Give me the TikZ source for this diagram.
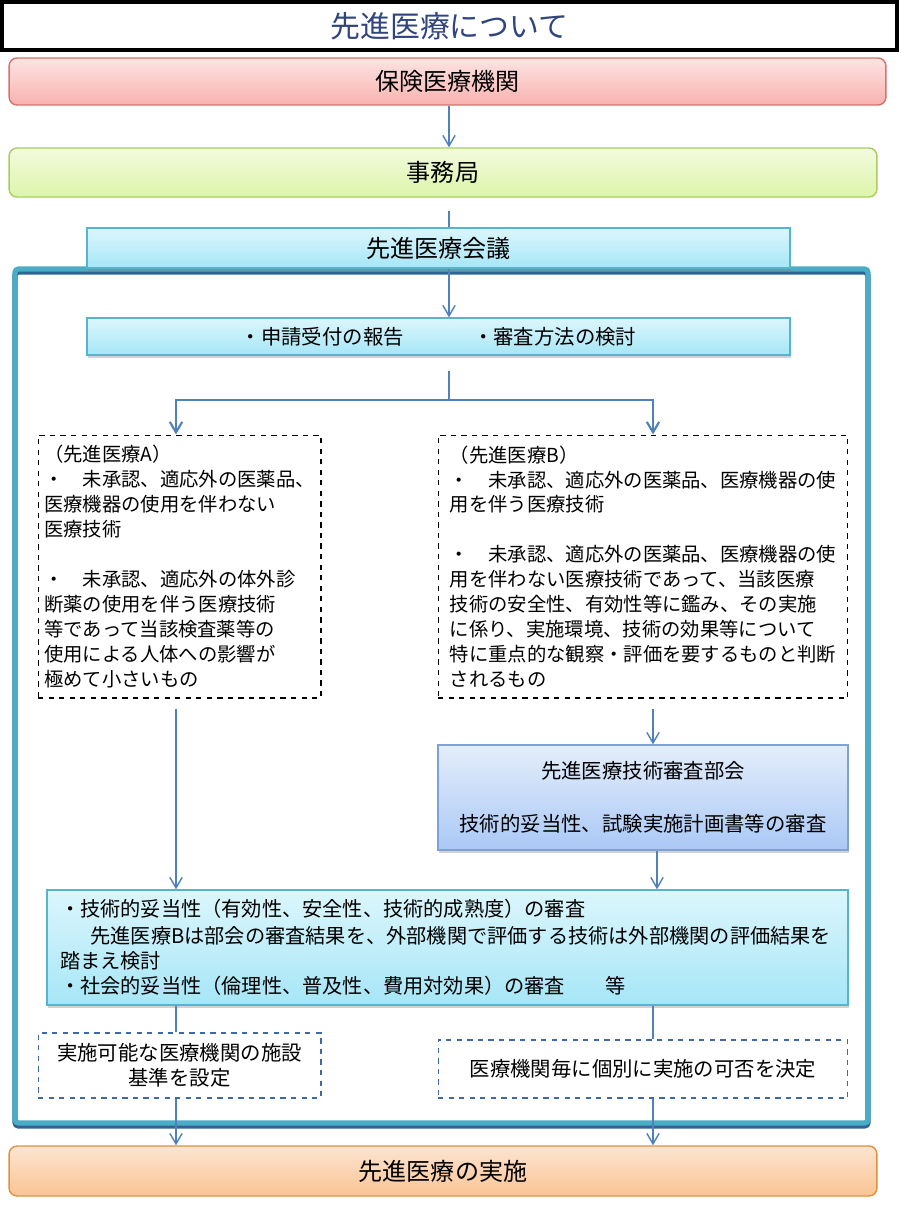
\documentclass[tikz,border=0pt]{standalone}
\usepackage{fontspec}
\setmainfont{Noto Sans CJK JP}
\usepackage{xcolor}
\definecolor{titleblue}{RGB}{48,68,128}
\definecolor{arrowblue}{RGB}{79,129,189}
\definecolor{hokentop}{RGB}{253,228,228}
\definecolor{hokenbot}{RGB}{248,178,174}
\definecolor{hokenline}{RGB}{214,112,110}
\definecolor{jimutop}{RGB}{243,250,222}
\definecolor{jimubot}{RGB}{221,245,170}
\definecolor{jimuline}{RGB}{166,206,96}
\definecolor{cyantop}{RGB}{220,246,252}
\definecolor{cyanbot}{RGB}{166,230,247}
\definecolor{cyanline}{RGB}{88,180,206}
\definecolor{bukaitop}{RGB}{228,238,250}
\definecolor{bukaibot}{RGB}{170,200,246}
\definecolor{bukailine}{RGB}{126,162,212}
\definecolor{jisshitop}{RGB}{252,228,210}
\definecolor{jisshibot}{RGB}{251,196,147}
\definecolor{jisshiline}{RGB}{222,145,62}
\definecolor{framecolor}{RGB}{75,172,198}
\definecolor{frameshadow}{RGB}{46,100,150}
\definecolor{dashblue}{RGB}{62,104,168}
\usetikzlibrary{arrows.meta,calc,shadows,backgrounds}

\begin{document}
\begin{tikzpicture}[x=0.02cm, y=-0.02cm, every node/.style={color=black, inner sep=0pt},
  bigfont/.style={font=\fontsize{13.7}{16}\selectfont},
  midfont/.style={font=\fontsize{11.6}{14.2}\selectfont},
  smallfont/.style={font=\fontsize{11}{14.2}\selectfont},
  roundbox/.style={draw, line width=0.8pt, rounded corners=4.5pt, bigfont},
  cyanbox/.style={draw=cyanline, line width=0.8pt, top color=cyantop, bottom color=cyanbot,
    drop shadow={shadow xshift=0.6pt, shadow yshift=-1.6pt, opacity=0.35}},
  dashbox/.style={draw, dashed, line width=0.6pt},
  flow/.style={arrowblue, line width=0.8pt},
  flowarrow/.style={flow, -{Straight Barb[length=6pt, width=7pt]}}]
  \useasboundingbox (0,0) rectangle (900,1214);

  % outer frame of the council
  \begin{scope}[on background layer]
    \draw[frameshadow, line width=3pt, rounded corners=2pt, fill=white] (15,272) rectangle (868,1126);
    \draw[framecolor, line width=3pt, rounded corners=2pt] (15,269) rectangle (868,1123);
  \end{scope}

  \node[draw=black, line width=2pt, minimum width=17.9cm, minimum height=0.96cm,
    text=titleblue, font=\fontsize{17}{20}\selectfont] (title) at (449.5,26) {先進医療について};

  \node[roundbox, draw=hokenline, top color=hokentop, bottom color=hokenbot,
    minimum width=17.54cm, minimum height=0.94cm] (hoken) at (447.5,81.5) {保険医療機関};
  \node[roundbox, draw=jimuline, top color=jimutop, bottom color=jimubot,
    minimum width=17.36cm, minimum height=0.98cm] (jimu) at (443,172.5) {事務局};
  \node[cyanbox, bigfont, minimum width=14.06cm, minimum height=0.8cm] (kaigi) at (438.5,248) {先進医療会議};
  \node[cyanbox, midfont, minimum width=14.06cm, minimum height=0.74cm] (shinsei) at (438.5,336.5)
    {・申請受付の報告\hspace{3.4em}・審査方法の検討};

  \node[dashbox, smallfont, align=left, minimum width=5.66cm, minimum height=5.26cm] (senA) at (179.5,566.5)
    {（先進医療A）\\
     ・　未承認、適応外の医薬品、\\
     医療機器の使用を伴わない\\
     医療技術\\[14.2pt]
     ・　未承認、適応外の体外診\\
     断薬の使用を伴う医療技術\\
     等であって当該検査薬等の\\
     使用による人体への影響が\\
     極めて小さいもの};
  \node[dashbox, smallfont, align=left, minimum width=8.2cm, minimum height=5.26cm] (senB) at (643,566.5)
    {（先進医療B）\\
     ・　未承認、適応外の医薬品、医療機器の使\\
     用を伴う医療技術\\[14.2pt]
     ・　未承認、適応外の医薬品、医療機器の使\\
     用を伴わない医療技術であって、当該医療\\
     技術の安全性、有効性等に鑑み、その実施\\
     に係り、実施環境、技術の効果等について\\
     特に重点的な観察・評価を要するものと判断\\
     されるもの};

  \node[draw=bukailine, line width=0.8pt, top color=bukaitop, bottom color=bukaibot,
    drop shadow={shadow xshift=0.6pt, shadow yshift=-1.6pt, opacity=0.35},
    midfont, align=center, minimum width=8.2cm, minimum height=2.1cm] (bukai) at (643,797.5)
    {先進医療技術審査部会\\[15.8pt]
     技術的妥当性、試験実施計画書等の審査};

  \node[cyanbox, font=\fontsize{11.5}{14.2}\selectfont, align=left, text width=15.5cm, inner xsep=0.26cm,
    minimum width=16.02cm, minimum height=2.3cm] (shinsa) at (447.5,947.5)
    {・技術的妥当性（有効性、安全性、技術的成熟度）の審査\\[1.2pt]
     \hspace*{1.5em}先進医療Bは部会の審査結果を、外部機関で評価する技術は外部機関の評価結果を\\
     踏まえ検討\\
     ・社会的妥当性（倫理性、普及性、費用対効果）の審査　　等};

  \node[dashbox, draw=dashblue, midfont, align=center, minimum width=5.66cm, minimum height=1.3cm] (kijun)
    at (179.5,1065.5) {実施可能な医療機関の施設\\基準を設定};
  \node[dashbox, draw=dashblue, midfont, minimum width=8.2cm, minimum height=1.16cm] (kahi)
    at (643,1069) {医療機関毎に個別に実施の可否を決定};

  \node[roundbox, draw=jisshiline, top color=jisshitop, bottom color=jisshibot,
    minimum width=17.36cm, minimum height=1.0cm] (jisshi) at (443,1171) {先進医療の実施};

  \coordinate (colM) at (449,0);
  \coordinate (colA) at (176,0);
  \coordinate (colB) at (653,0);
  \coordinate (colC) at (657,0);
  \coordinate (split) at (449,400);

  \begin{scope}[on background layer]
    \draw[flowarrow] (hoken.south -| colM) -- (jimu.north -| colM);
    \draw[flowarrow, shorten <=0.26cm] (jimu.south -| colM) -- (shinsei.north -| colM);
    \draw[flow, shorten <=0.3cm] (shinsei.south -| colM) -- (split);
    \draw[flowarrow, line width=1.2pt] (split) -| (senA.north -| colA);
    \draw[flowarrow, line width=1.2pt] (split) -| (senB.north -| colB);
    \draw[flowarrow, shorten <=0.2cm] (senA.south -| colA) -- (shinsa.north -| colA);
    \draw[flowarrow, shorten <=0.2cm] (senB.south -| colB) -- (bukai.north -| colB);
    \draw[flowarrow] (bukai.south -| colC) -- (shinsa.north -| colC);
    \draw[flow] (shinsa.south -| colA) -- (kijun.north -| colA);
    \draw[flow] (shinsa.south -| colB) -- (kahi.north -| colB);
    \draw[flowarrow] (kijun.south -| colA) -- (jisshi.north -| colA);
    \draw[flowarrow] (kahi.south -| colB) -- (jisshi.north -| colB);
  \end{scope}
\end{tikzpicture}
\end{document}
